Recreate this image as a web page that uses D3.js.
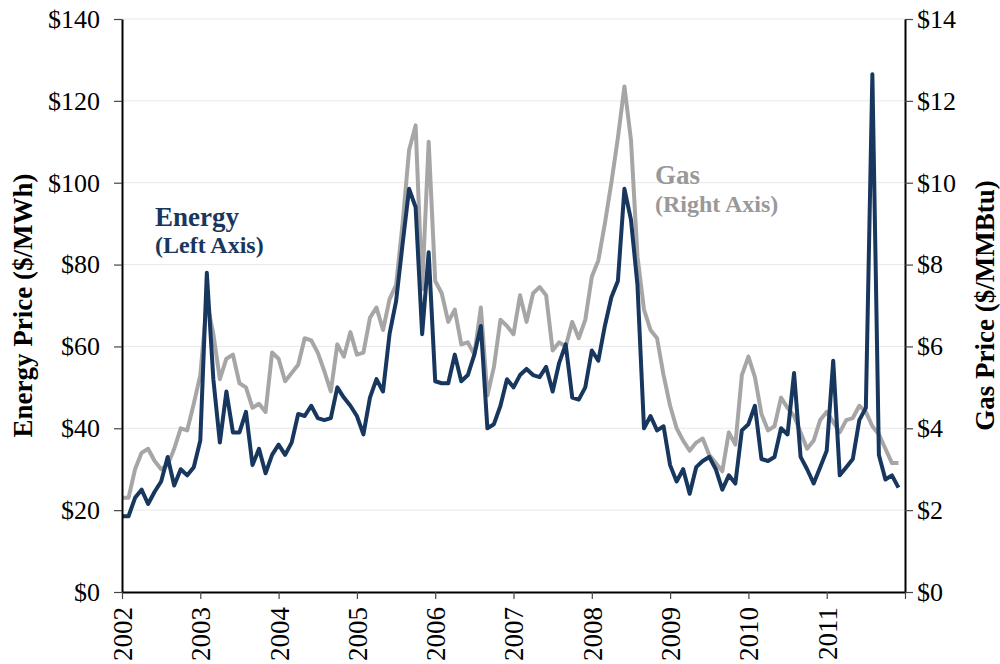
<!DOCTYPE html>
<html>
<head>
<meta charset="utf-8">
<script src="https://cdn.jsdelivr.net/npm/d3@7"></script>
<style>
  body { margin: 0; background: #fff; }
  svg { display: block; font-family: "Liberation Serif", "Times New Roman", serif; }
</style>
</head>
<body>
<svg id="chart" width="1000" height="664"></svg>
<script>
// monthly values, Jan 2002 .. Dec 2011
const years = [2002, 2003, 2004, 2005, 2006, 2007, 2008, 2009, 2010, 2011];

const energyPrice = [
  18.5, 18.5, 23, 25, 21.5, 24.5, 27, 33, 26, 30, 28.5, 30.5,
  37, 78, 52, 36.5, 49, 39, 39, 44, 31, 35, 29, 33.5,
  36, 33.5, 36.5, 43.5, 43, 45.5, 42.5, 42, 42.5, 50, 47.5, 45.5,
  43, 38.5, 47.5, 52, 49, 63, 71, 85, 98.5, 94, 63, 83,
  51.5, 51, 51, 58, 51.5, 53, 58, 65, 40, 41, 45.5, 52,
  50, 53, 54.5, 53, 52.5, 55, 49, 56, 60.5, 47.5, 47, 50,
  59, 56.5, 65, 72, 76, 98.5, 91, 75, 40, 43, 39.5, 40.5,
  31, 27, 30, 24, 30.5, 32, 33, 30, 25, 28.5, 26.5, 39.5,
  41, 45.5, 32.5, 32, 33, 40, 38.5, 53.5, 33, 30, 26.5, 30.5,
  34.5, 56.5, 28.5, 30.5, 32.5, 42, 45, 126.5, 33.5, 27.5, 28.5, 25.5
];

const gasPrice = [
  2.3, 2.3, 3.0, 3.4, 3.5, 3.2, 3.0, 3.1, 3.5, 4.0, 3.95, 4.6,
  5.3, 7.1, 6.3, 5.2, 5.7, 5.8, 5.1, 5.0, 4.5, 4.6, 4.4, 5.85,
  5.7, 5.15, 5.35, 5.55, 6.2, 6.15, 5.85, 5.4, 4.9, 6.05, 5.75, 6.35,
  5.8, 5.85, 6.7, 6.95, 6.4, 7.15, 7.5, 9.0, 10.8, 11.4, 7.4, 11.0,
  7.6, 7.3, 6.6, 6.9, 6.05, 6.1, 5.8, 6.95, 4.8, 5.5, 6.65, 6.5,
  6.3, 7.25, 6.6, 7.3, 7.45, 7.25, 5.9, 6.1, 6.0, 6.6, 6.2, 6.65,
  7.7, 8.1, 9.0, 10.0, 11.1, 12.35, 11.05, 8.2, 6.9, 6.4, 6.2, 5.3,
  4.55, 4.0, 3.7, 3.45, 3.65, 3.75, 3.35, 3.15, 2.95, 3.9, 3.6, 5.3,
  5.75, 5.25, 4.35, 3.95, 4.05, 4.75, 4.5, 4.3, 3.9, 3.5, 3.7, 4.2,
  4.4, 4.15, 3.9, 4.2, 4.25, 4.55, 4.4, 4.05, 3.85, 3.5, 3.15, 3.15
];

const leftTicks = [0, 20, 40, 60, 80, 100, 120, 140];
const rightTicks = [0, 2, 4, 6, 8, 10, 12, 14];

const ENERGY_COLOR = '#17375e';
const GAS_COLOR = '#a6a6a6';

const svg = d3.select('#chart');
const margin = { left: 122, right: 95, top: 19, bottom: 72 };
const width = 1000, height = 664;

const x = d3.scaleLinear().domain([0, 120]).range([margin.left, width - margin.right]);
const yLeft = d3.scaleLinear().domain([0, 140]).range([height - margin.bottom, margin.top]);
const yRight = d3.scaleLinear().domain([0, 14]).range([height - margin.bottom, margin.top]);

// gridlines
svg.append('g')
  .selectAll('line')
  .data(leftTicks.slice(1))
  .join('line')
  .attr('x1', x(0)).attr('x2', x(120))
  .attr('y1', d => yLeft(d)).attr('y2', d => yLeft(d))
  .style('stroke', '#e8e8e8')
  .style('stroke-width', 1);

// lines
const energyLine = d3.line().x((d, i) => x(i)).y(d => yLeft(d));
const gasLine = d3.line().x((d, i) => x(i)).y(d => yRight(d));

svg.append('path')
  .datum(gasPrice)
  .attr('d', gasLine)
  .style('fill', 'none')
  .style('stroke', GAS_COLOR)
  .style('stroke-width', 4)
  .style('stroke-linejoin', 'round');

svg.append('path')
  .datum(energyPrice)
  .attr('d', energyLine)
  .style('fill', 'none')
  .style('stroke', ENERGY_COLOR)
  .style('stroke-width', 4)
  .style('stroke-linejoin', 'round');

// axes
const leftAxis = svg.append('g')
  .attr('transform', `translate(${margin.left},0)`)
  .call(d3.axisLeft(yLeft).tickValues(leftTicks).tickFormat(d => '$' + d)
    .tickSize(8).tickSizeOuter(0).tickPadding(14));

const rightAxis = svg.append('g')
  .attr('transform', `translate(${width - margin.right},0)`)
  .call(d3.axisRight(yRight).tickValues(rightTicks).tickFormat(d => '$' + d)
    .tickSize(8).tickSizeOuter(0).tickPadding(4));

const xAxis = svg.append('g')
  .attr('transform', `translate(0,${height - margin.bottom})`)
  .call(d3.axisBottom(x).tickValues(d3.range(0, 121, 12))
    .tickFormat(d => d < 120 ? String(years[d / 12]) : '')
    .tickSize(7).tickSizeOuter(0).tickPadding(4));

[leftAxis, rightAxis, xAxis].forEach(g => {
  g.select('.domain').style('stroke', '#000').style('stroke-width', 2);
  g.selectAll('.tick line').style('stroke', '#444').style('stroke-width', 1.2);
  g.selectAll('.tick text')
    .style('font-family', '"Liberation Serif", serif')
    .style('font-size', '26px')
    .style('fill', '#000');
});

xAxis.selectAll('.tick text')
  .attr('transform', 'rotate(-90)')
  .attr('x', -15)
  .attr('y', 0)
  .attr('dy', '0.35em')
  .style('text-anchor', 'end')
  .style('font-size', '27px');

// axis titles
svg.append('text')
  .attr('transform', `translate(32,${(margin.top + height - margin.bottom) / 2}) rotate(-90)`)
  .attr('text-anchor', 'middle')
  .style('font-size', '27px')
  .style('font-weight', 'bold')
  .text('Energy Price ($/MWh)');

svg.append('text')
  .attr('transform', `translate(994,${(margin.top + height - margin.bottom) / 2}) rotate(-90)`)
  .attr('text-anchor', 'middle')
  .style('font-size', '27px')
  .style('font-weight', 'bold')
  .text('Gas Price ($/MMBtu)');

// series labels
const energyLabel = svg.append('g').style('fill', ENERGY_COLOR).style('font-weight', 'bold');
energyLabel.append('text').attr('x', 155).attr('y', 226).style('font-size', '27px').text('Energy');
energyLabel.append('text').attr('x', 155).attr('y', 253).style('font-size', '24px').text('(Left Axis)');

const gasLabel = svg.append('g').style('fill', '#999999').style('font-weight', 'bold');
gasLabel.append('text').attr('x', 655).attr('y', 184).style('font-size', '27px').text('Gas');
gasLabel.append('text').attr('x', 655).attr('y', 212).style('font-size', '24px').text('(Right Axis)');
</script>
</body>
</html>
